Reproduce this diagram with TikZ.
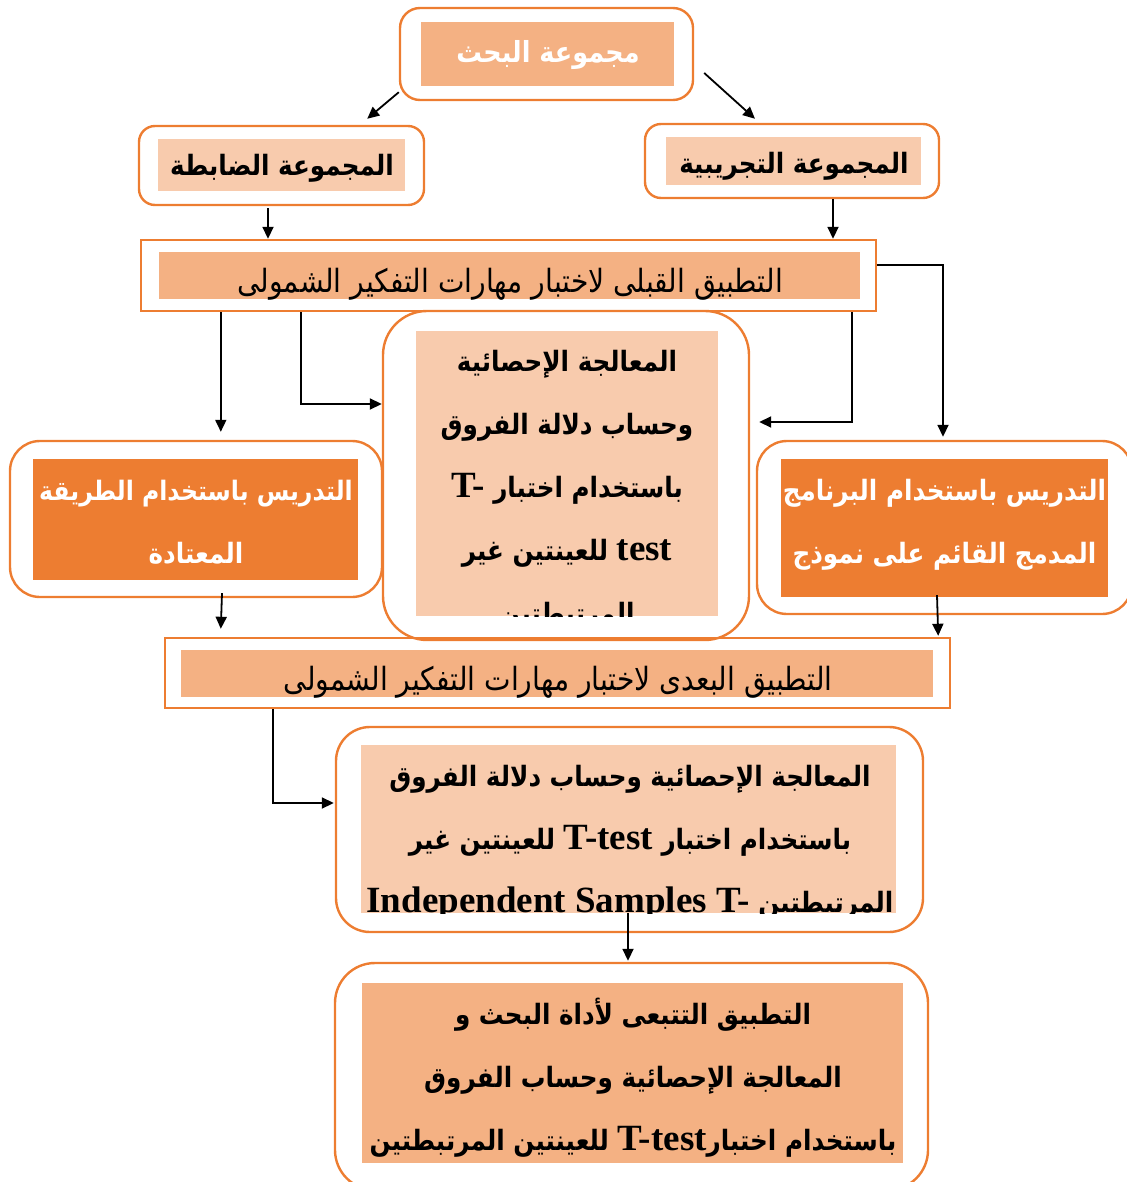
\documentclass[tikz,border=0pt]{standalone}
\usepackage{fontspec}
\usetikzlibrary{arrows.meta,calc}
\newfontfamily\arabicfont[Script=Arabic, FakeStretch=0.88]{DejaVu Sans}
\newfontfamily\latinfont{Liberation Serif}
\TeXXeTstate=1
\newcommand{\arline}[1]{\beginR #1\endR}
\newcommand{\enword}[1]{\beginL{\latinfont\fontsize{18.5}{31.5}\selectfont #1}\endL{}}
\definecolor{boxline}{HTML}{ED7D31}
\definecolor{peach}{HTML}{F4B183}
\definecolor{peachlt}{HTML}{F8CBAD}
\definecolor{orangedk}{HTML}{ED7D31}
\begin{document}
\begin{tikzpicture}[x=0.5pt, y=-0.5pt,
    outerbox/.style={draw=boxline, line width=1.2pt, inner sep=0pt},
    fillbox/.style={fill=#1, inner sep=0pt},
    boldtxt/.style={font=\arabicfont\bfseries\fontsize{14}{31.5}\selectfont, align=center, inner sep=0pt},
    plaintxt/.style={font=\arabicfont\fontsize{16}{31.5}\selectfont, align=center, inner sep=0pt},
    arr/.style={-{Triangle[length=6pt,width=5.5pt]}, line width=0.9pt}]
    \useasboundingbox (0,0) rectangle (1127,1182);

    % research group
    \node[outerbox, rounded corners=10pt, minimum width=146.5pt, minimum height=46pt] (grp) at (546.5,54) {};
    \node[fillbox=peach, minimum width=126.5pt, minimum height=32pt] (grpin) at (547.5,54) {};
    \node[boldtxt, text=white] (grptxt) at (548,55) {\fontsize{14.5}{31.5}\selectfont\arline{مجموعة البحث}};

    % control and experimental groups
    \node[outerbox, rounded corners=8pt, minimum width=142.5pt, minimum height=39.5pt] (ctrl) at (281.5,165.5) {};
    \node[fillbox=peachlt, minimum width=123.5pt, minimum height=26pt] (ctrlin) at (281.5,165) {};
    \node[boldtxt] (ctrltxt) at (282,168) {\arline{المجموعة الضابطة}};

    \node[outerbox, rounded corners=8pt, minimum width=147pt, minimum height=37pt] (exp) at (792,161) {};
    \node[fillbox=peachlt, minimum width=127.5pt, minimum height=24pt] (expin) at (793.5,161) {};
    \node[boldtxt] (exptxt) at (794,166) {\arline{المجموعة التجريبية}};

    % pre test
    \node[outerbox, minimum width=367.5pt, minimum height=35.5pt] (pre) at (508.5,275.5) {};
    \node[fillbox=peach, minimum width=350.5pt, minimum height=23.5pt] (prein) at (509.5,275.5) {};
    \begin{scope}
        \clip (prein.south west) rectangle (prein.north east);
        \node[plaintxt] (pretxt) at (510,284) {\arline{التطبيق القبلى لاختبار مهارات التفكير الشمولى}};
    \end{scope}

    % statistics (pre)
    \node[outerbox, rounded corners=22pt, minimum width=183pt, minimum height=164.5pt] (statsA) at (566,475.5) {};
    \node[fillbox=peachlt, minimum width=151pt, minimum height=142.5pt] (statsAin) at (567,473.5) {};
    \begin{scope}
        \clip (statsAin.south west) rectangle (statsAin.north east);
        \node[boldtxt] (statsAtxt) at (567,490) {\arline{المعالجة الإحصائية}\\
            \arline{وحساب دلالة الفروق}\\
            \arline{باستخدام اختبار \enword{T-}}\\
            \arline{\enword{test} للعينتين غير}\\
            \arline{المرتبطتين}};
    \end{scope}

    % teaching boxes
    \node[outerbox, rounded corners=15pt, minimum width=186pt, minimum height=78pt] (trad) at (196,519) {};
    \node[fillbox=orangedk, minimum width=162.5pt, minimum height=60.5pt] (tradin) at (195.5,519.5) {};
    \node[boldtxt, text=white] (tradtxt) at (196,522) {\fontsize{13.4}{31.5}\selectfont\arline{التدريس باستخدام الطريقة}\\ \arline{المعتادة}};

    \node[outerbox, rounded corners=15pt, minimum width=187.5pt, minimum height=86.5pt] (prog) at (944.5,527.5) {};
    \node[fillbox=orangedk, minimum width=163.5pt, minimum height=69pt] (progin) at (944.5,528) {};
    \node[boldtxt, text=white] (progtxt) at (944.5,525) {\arline{التدريس باستخدام البرنامج}\\ \arline{المدمج القائم على نموذج}};

    % post test
    \node[outerbox, minimum width=392.5pt, minimum height=35pt] (post) at (557.5,673) {};
    \node[fillbox=peach, minimum width=376pt, minimum height=23.5pt] (postin) at (557,673.5) {};
    \begin{scope}
        \clip (postin.south west) rectangle (postin.north east);
        \node[plaintxt] (posttxt) at (558,682) {\arline{التطبيق البعدى لاختبار مهارات التفكير الشمولى}};
    \end{scope}

    % statistics (post)
    \node[outerbox, rounded corners=17pt, minimum width=293.5pt, minimum height=102.5pt] (statsB) at (629.5,829.5) {};
    \node[fillbox=peachlt, minimum width=267.5pt, minimum height=84pt] (statsBin) at (628.5,829) {};
    \begin{scope}
        \clip (statsBin.south west) rectangle (statsBin.north east);
        \node[boldtxt] (statsBtxt) at (630,843) {\arline{المعالجة الإحصائية وحساب دلالة الفروق}\\
            \arline{باستخدام اختبار \enword{T-test} للعينتين غير}\\
            \arline{المرتبطتين \enword{Independent Samples T-}}};
    \end{scope}

    % follow-up
    \node[outerbox, rounded corners=20pt, minimum width=296.5pt, minimum height=113.5pt] (follow) at (631.5,1076.5) {};
    \node[fillbox=peach, minimum width=270.5pt, minimum height=90pt] (followin) at (632.5,1073) {};
    \node[boldtxt] (followtxt) at (633,1078) {\arline{التطبيق التتبعى لأداة البحث و}\\
        \arline{المعالجة الإحصائية وحساب الفروق}\\
        \arline{باستخدام اختبار\enword{T-test}  للعينتين المرتبطتين}};

    % connectors
    \draw[arr] ($(grp.south west)+(0,-9)$) -- ($(ctrl.north east)+(-58,-6)$);
    \draw[arr] ($(grp.east)+(10,19)$) -- ($(exp.north)+(-37,-4)$);
    \draw[arr] ($(ctrl.south)+(-13.5,2)$) coordinate (c1) -- (c1 |- pre.north);
    \draw[arr] ($(exp.south)+(41,0)$) coordinate (c2) -- (c2 |- pre.north);
    \draw[arr] ($(pre.south west)+(81,0)$) -- ($(trad.north west)+(212,-8)$);
    \draw[arr] ($(pre.south west)+(161,0)$) |- ($(statsA.west)+(0,-71.5)$);
    \draw[arr] ($(pre.south east)+(-25,0)$) |- ($(statsA.east)+(9,-53.5)$);
    \draw[arr] ($(pre.east)+(0,-10.5)$) -| ($(prog.north)+(-1.5,-3)$);
    \draw[arr] ($(trad.south)+(26,-5)$) -- ($(post.north west)+(57,-8)$);
    \draw[arr] ($(prog.south)+(-7.5,-20)$) -- ($(post.north east)+(-13,-1)$);
    \draw[arr] ($(post.south west)+(109,0)$) |- ($(statsB.west)+(-1,-26.5)$);
    \draw[arr] ($(statsB.south)+(-1.5,-20)$) -- ($(follow.north)+(-3.5,-1)$);
\end{tikzpicture}
\end{document}
